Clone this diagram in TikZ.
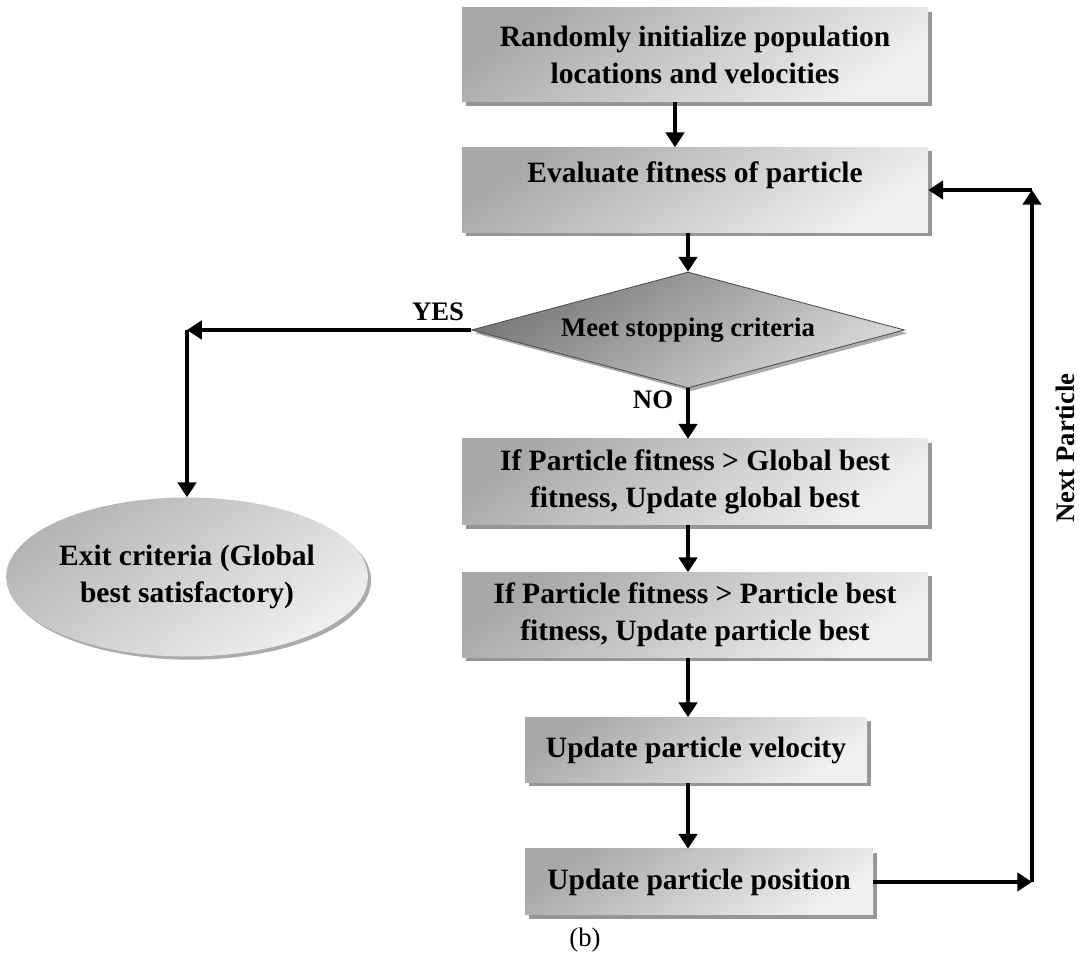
\documentclass[tikz,border=0pt]{standalone}
\usepackage{fontspec}
\setmainfont{Liberation Serif}
\usetikzlibrary{shapes.geometric, arrows.meta, positioning, calc, shadows}
\definecolor{boxdark}{RGB}{168,168,168}
\definecolor{boxlight}{RGB}{240,240,240}
\definecolor{ovaldark}{RGB}{180,180,180}
\definecolor{diadark}{RGB}{120,120,120}
\definecolor{dialight}{RGB}{218,218,218}
\definecolor{shadowgray}{RGB}{150,150,150}
\tikzset{
    block/.style={rectangle, top color=boxdark, bottom color=boxlight, shading angle=35, align=center, inner sep=0pt, font=\fontsize{21}{26.5}\selectfont\bfseries, drop shadow={shadow xshift=0.1cm, shadow yshift=-0.1cm, fill=shadowgray, opacity=1}},
    decision/.style={diamond, aspect=3.7, inner sep=0pt, draw=black!70, line width=0.6pt, top color=diadark, bottom color=dialight, shading angle=35, font=\fontsize{19}{23}\selectfont\bfseries, drop shadow={shadow xshift=0.08cm, shadow yshift=-0.08cm, fill=shadowgray, opacity=0.8}},
    terminal/.style={ellipse, inner sep=0pt, align=center, top color=ovaldark, bottom color=boxlight, shading angle=35, font=\fontsize{21}{26.5}\selectfont\bfseries, drop shadow={shadow xshift=0.08cm, shadow yshift=-0.08cm, fill=shadowgray, opacity=0.8}},
    line/.style={draw, -{Triangle[length=10.5pt, width=13pt]}, line width=3.2pt},
    tag/.style={font=\fontsize{19}{23}\selectfont\bfseries}
}

\begin{document}
\begin{tikzpicture}

    \useasboundingbox (0,0) rectangle (27.075,23.875);

    % --- MAIN COLUMN ---
    \node[block, minimum width=11.65cm, minimum height=2.35cm] (init) at (17.375,22.5) {Randomly initialize population\\ locations and velocities};
    \node[block, minimum width=11.65cm, minimum height=2.125cm, text depth=26pt] (eval) at (17.375,19.125) {Evaluate fitness of particle};
    \node[decision, minimum width=10.825cm, minimum height=2.9cm] (ask) at (17.2,15.625) {Meet stopping criteria};
    \node[block, minimum width=11.65cm, minimum height=2.15cm] (gbest) at (17.375,11.825) {If Particle fitness > Global best\\ fitness, Update global best};
    \node[block, minimum width=11.65cm, minimum height=2.125cm] (pbest) at (17.375,8.5) {If Particle fitness > Particle best\\ fitness, Update particle best};
    \node[block, minimum width=8.55cm, minimum height=1.625cm] (vel) at (17.4,5.125) {Update particle velocity};
    \node[block, minimum width=8.7cm, minimum height=1.65cm] (pos) at (17.475,1.825) {Update particle position};

    % --- EXIT ---
    \node[terminal, minimum width=8.925cm, minimum height=3.975cm] (exit) at (4.675,9.45) {Exit criteria (Global\\ best satisfactory)};

    % Connectors
    \draw[line] ([xshift=-0.5cm]init.south) -- ([xshift=-0.5cm]init.south |- eval.north);
    \draw[line] (eval.south -| ask.north) -- (ask.north);
    \draw[line] (ask.south) -- (gbest.north -| ask.south);
    \draw[line] (gbest.south -| ask.south) -- (pbest.north -| ask.south);
    \draw[line] (pbest.south -| ask.south) -- (vel.north -| ask.south);
    \draw[line] (vel.south -| ask.south) -- (pos.north -| ask.south);

    \coordinate (yescorner) at (ask.west -| exit.north);
    \draw[line] (ask.west) -- (yescorner);
    \draw[line] (yescorner) -- (exit.north);

    \coordinate (loopx) at (25.8,0);
    \draw[line] (pos.east) -- (loopx |- pos.east);
    \draw[line] (loopx |- pos.east) -- (loopx |- eval.east);
    \draw[line] (loopx |- eval.east) -- (eval.east);

    % Labels
    \node[tag] (yeslbl) at (10.95,16.075) {YES};
    \node[tag] (nolbl) at (16.325,13.875) {NO};
    \node[tag, rotate=90] (nextlbl) at (26.625,12.675) {Next Particle};
    \node[font=\fontsize{19}{23}\selectfont] (sublbl) at (14.625,0.375) {(b)};

\end{tikzpicture}
\end{document}
